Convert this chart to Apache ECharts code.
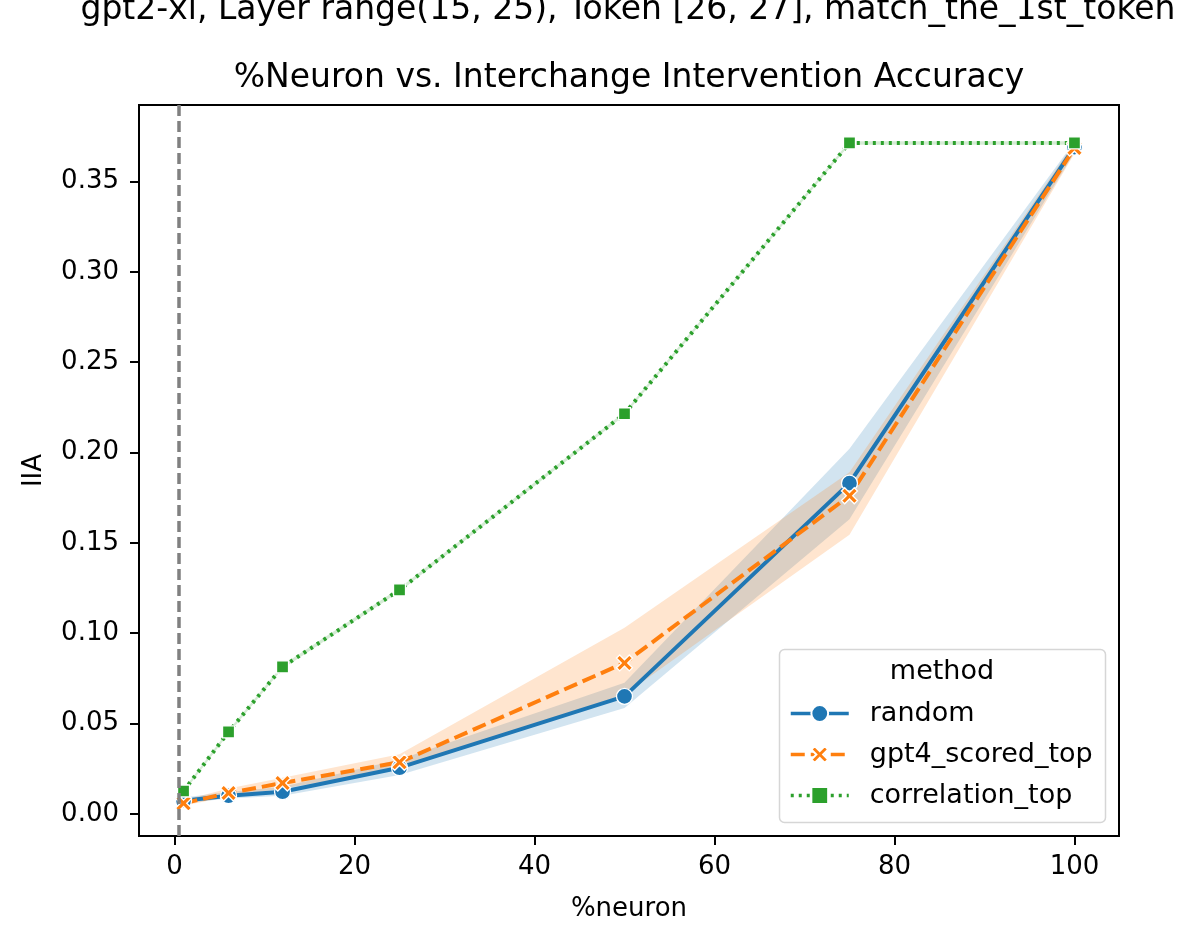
<!DOCTYPE html>
<html>
<head>
<meta charset="utf-8">
<script src="https://cdn.jsdelivr.net/npm/echarts@6/dist/echarts.min.js"></script>
<style>
  html, body { margin: 0; padding: 0; background: #fff; }
  #chart { width: 1196px; height: 941px; }
</style>
</head>
<body>
<div id="chart"></div>
<script>
// %neuron sampled
const neuronPct = [1, 6, 12, 25, 50, 75, 100]

// mean IIA per method
const randomIIA = [0.0072, 0.0100, 0.0122, 0.0255, 0.0650, 0.1830, 0.3690]
const gpt4IIA = [0.0058, 0.0115, 0.0170, 0.0285, 0.0835, 0.1760, 0.3685]
const corrIIA = [0.0126, 0.0453, 0.0813, 0.1239, 0.2214, 0.3713, 0.3713]

// confidence bands (lower / upper)
const randomLo = [0.0058, 0.0085, 0.0100, 0.0215, 0.0585, 0.1630, 0.3660]
const randomHi = [0.0090, 0.0120, 0.0150, 0.0300, 0.0725, 0.2020, 0.3720]
const gpt4Lo = [0.0045, 0.0095, 0.0140, 0.0245, 0.0660, 0.1545, 0.3655]
const gpt4Hi = [0.0075, 0.0140, 0.0200, 0.0330, 0.1030, 0.1890, 0.3715]
const corrLo = [0.0116, 0.0443, 0.0803, 0.1229, 0.2204, 0.3703, 0.3703]
const corrHi = [0.0136, 0.0463, 0.0823, 0.1249, 0.2224, 0.3723, 0.3723]

// axis ticks
const xTicks = [0, 20, 40, 60, 80, 100]
const yTicks = [0, 0.05, 0.1, 0.15, 0.2, 0.25, 0.3, 0.35]

const vLineX = 0.5

const FONT = 'DejaVu Sans'
const BLUE = '#1f77b4'
const ORANGE = '#ff7f0e'
const GREEN = '#2ca02c'

const xSymbol = 'path://M2,0 L5,3 L8,0 L10,2 L7,5 L10,8 L8,10 L5,7 L2,10 L0,8 L3,5 L0,2 Z'

function band(name, lo, hi, color) {
  return {
    name: name,
    type: 'custom',
    z: 1,
    silent: true,
    data: neuronPct.map((x, i) => [x, lo[i], hi[i]]),
    encode: { x: 0, y: [1, 2] },
    renderItem: (params, api) => {
      if (params.dataIndex !== 0) return null
      const upper = neuronPct.map((x, i) => api.coord([x, hi[i]]))
      const lower = neuronPct.map((x, i) => api.coord([x, lo[i]])).reverse()
      return {
        type: 'polygon',
        shape: { points: upper.concat(lower) },
        style: { fill: color, opacity: 0.2 },
      }
    },
  }
}

function line(name, values, color, type, symbol, size) {
  return {
    name: name,
    type: 'line',
    z: 2,
    data: neuronPct.map((x, i) => [x, values[i]]),
    symbol: symbol,
    symbolSize: size,
    showAllSymbol: true,
    lineStyle: { color: color, width: 4, type: type },
    itemStyle: { color: color, borderColor: '#fff', borderWidth: 1.3 },
    emphasis: { disabled: true },
  }
}

const chart = echarts.init(document.getElementById('chart'), null, { renderer: 'canvas' })

const option = {
  animation: false,
  backgroundColor: '#fff',
  textStyle: { fontFamily: FONT },
  title: [
    {
      text: 'gpt2-xl, Layer range(15, 25), Token [26, 27], match_the_1st_token',
      left: 628,
      textAlign: 'center',
      top: -6,
      padding: 0,
      textStyle: { fontFamily: FONT, fontSize: 33, fontWeight: 'normal', color: '#000' },
    },
    {
      text: '%Neuron vs. Interchange Intervention Accuracy',
      left: 629,
      textAlign: 'center',
      top: 62,
      padding: 0,
      textStyle: { fontFamily: FONT, fontSize: 33, fontWeight: 'normal', color: '#000' },
    },
  ],
  grid: {
    left: 139,
    right: 77,
    top: 105,
    bottom: 105,
    show: true,
    borderColor: '#000',
    borderWidth: 2,
    backgroundColor: 'transparent',
  },
  legend: {
    orient: 'vertical',
    left: 789,
    top: 700,
    z: 12,
    itemWidth: 58,
    itemHeight: 21,
    itemGap: 14,
    padding: 0,
    selectedMode: false,
    lineStyle: { width: 3.5 },
    data: ['random', 'gpt4_scored_top', 'correlation_top'],
    textStyle: { fontFamily: FONT, fontSize: 27, color: '#000', padding: [0, 0, 0, 16] },
  },
  xAxis: {
    type: 'value',
    min: -3.95,
    max: 104.95,
    name: '%neuron',
    nameLocation: 'middle',
    nameGap: 60,
    nameTextStyle: { fontFamily: FONT, fontSize: 26, color: '#000' },
    axisLine: { show: false, onZero: false },
    splitLine: { show: false },
    axisTick: { show: true, length: 9, lineStyle: { color: '#000', width: 2 }, customValues: xTicks },
    axisLabel: { fontFamily: FONT, fontSize: 26, color: '#000', margin: 18, customValues: xTicks },
  },
  yAxis: {
    type: 'value',
    min: -0.0123,
    max: 0.3923,
    name: 'IIA',
    nameLocation: 'middle',
    nameGap: 92,
    nameRotate: 90,
    nameTextStyle: { fontFamily: FONT, fontSize: 26, color: '#000' },
    axisLine: { show: false, onZero: false },
    splitLine: { show: false },
    axisTick: { show: true, length: 9, lineStyle: { color: '#000', width: 2 }, customValues: yTicks },
    axisLabel: {
      fontFamily: FONT,
      fontSize: 26,
      color: '#000',
      margin: 20,
      customValues: yTicks,
      formatter: (v) => v.toFixed(2),
    },
  },
  graphic: [
    {
      type: 'rect',
      z: 10,
      shape: { x: 779.5, y: 649.5, width: 326, height: 173, r: 5 },
      style: { fill: 'rgba(255,255,255,0.8)', stroke: '#d6d6d6', lineWidth: 1.5 },
    },
    {
      type: 'text',
      z: 11,
      style: {
        x: 942,
        y: 672,
        text: 'method',
        fontFamily: FONT,
        fontSize: 27,
        fill: '#000',
        textAlign: 'center',
        textVerticalAlign: 'middle',
      },
    },
  ],
  series: [
    band('random_band', randomLo, randomHi, BLUE),
    band('gpt4_band', gpt4Lo, gpt4Hi, ORANGE),
    band('corr_band', corrLo, corrHi, GREEN),
    Object.assign(line('random', randomIIA, BLUE, 'solid', 'circle', 16), {
      markLine: {
        silent: true,
        symbol: 'none',
        label: { show: false },
        lineStyle: { color: '#808080', width: 3.5, type: [11, 5] },
        data: [{ xAxis: vLineX }],
      },
    }),
    line('gpt4_scored_top', gpt4IIA, ORANGE, [14, 6], xSymbol, 16),
    line('correlation_top', corrIIA, GREEN, [3, 5], 'rect', 12),
  ],
}

chart.setOption(option)
</script>
</body>
</html>
